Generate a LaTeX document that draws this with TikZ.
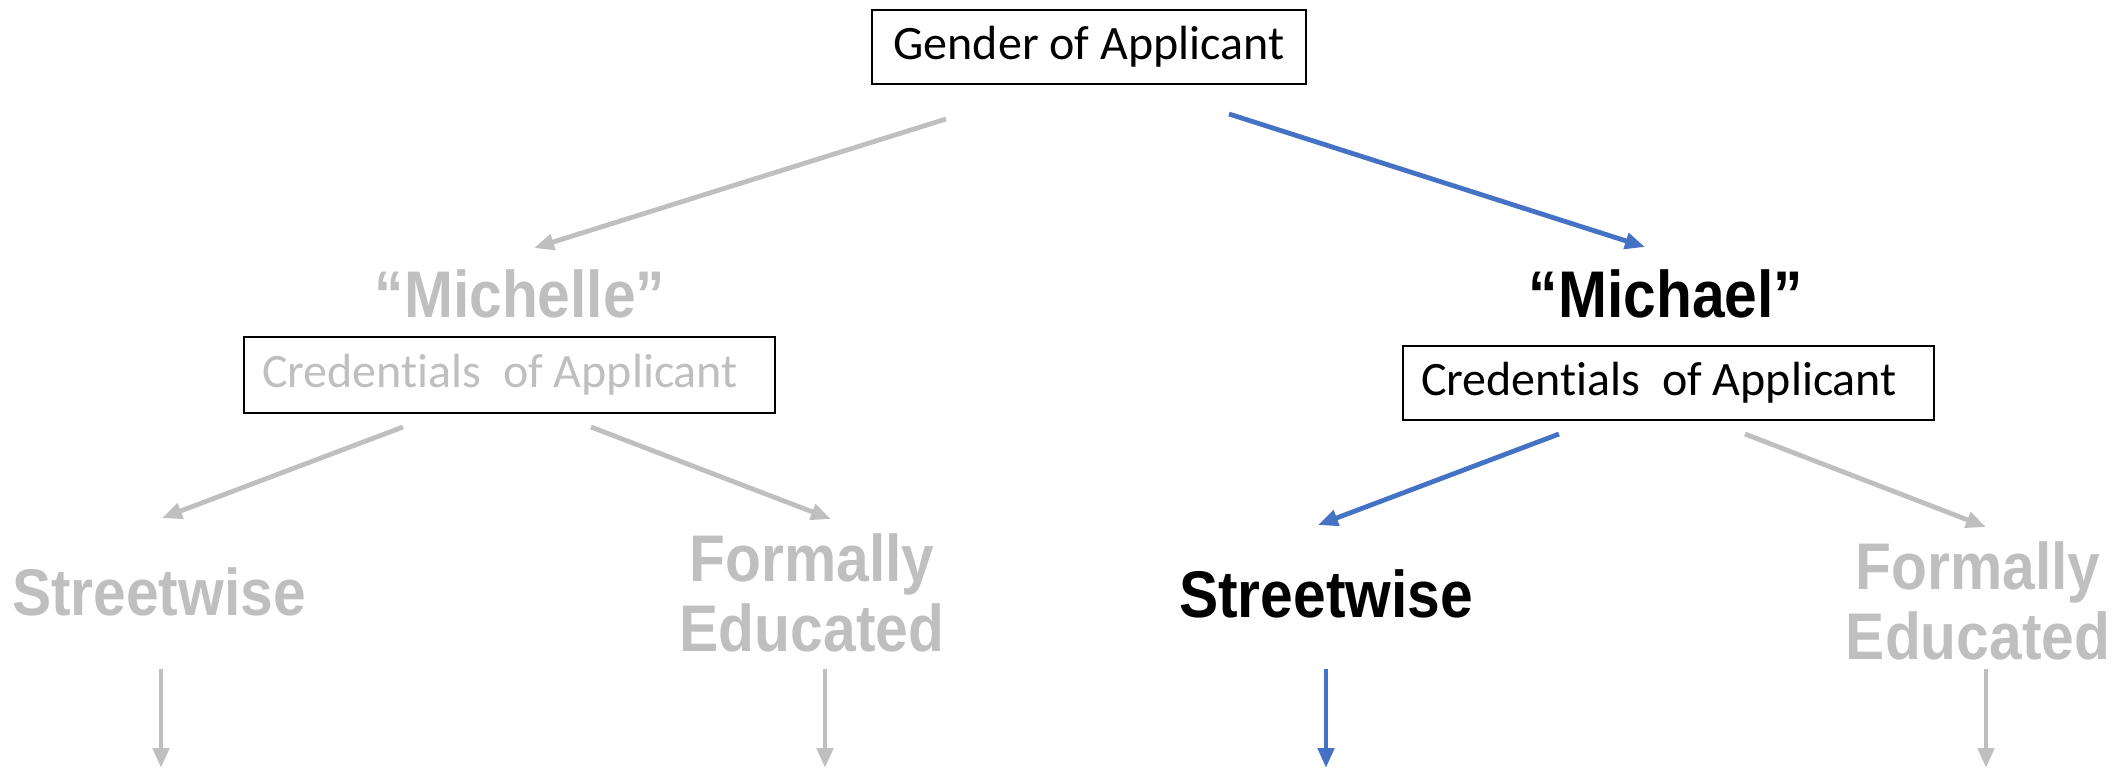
\documentclass[tikz,border=0pt]{standalone}
\usepackage{fontspec}
\setmainfont{Carlito}[Ligatures=NoCommon]
\newfontfamily\labelfont[FakeStretch=0.89]{Liberation Sans}
\usetikzlibrary{arrows.meta,positioning}
\usepackage{xcolor}
\definecolor{chosencolor}{RGB}{68,114,196}
\definecolor{ignoredcolor}{RGB}{191,191,191}

\begin{document}
\begin{tikzpicture}[
    x=0.5pt, y=-0.5pt,
    boxnode/.style={rectangle, draw=black, line width=1pt, minimum width=217pt, minimum height=37pt, inner sep=0pt, font=\fontsize{24}{28}\selectfont},
    labelnode/.style={align=center, inner sep=0pt, font=\labelfont\bfseries\fontsize{33}{35}\selectfont},
    chosenlabel/.style={labelnode, text=black},
    ignoredlabel/.style={labelnode, text=ignoredcolor},
    arrow/.style={-{Triangle[length=10pt,width=8pt]}, line width=2.4pt},
    chosenarrow/.style={arrow, chosencolor},
    ignoredarrow/.style={arrow, ignoredcolor}
]
\useasboundingbox (0,0) rectangle (2120,771);

% Root question
\node[boxnode] (gender) at (1089,47) {Gender of Applicant};

% Names
\node[ignoredlabel] (michelle) at (520,294) {“Michelle”};
\node[chosenlabel] (michael) at (1666,294) {“Michael”};

% Second question
\node[boxnode, minimum width=265.5pt, minimum height=38pt, text=ignoredcolor] (credL) at (509,375) {Credentials\ \ of Applicant\kern9pt};
\node[boxnode, minimum width=265.5pt] (credR) at (1668,383) {Credentials\ \ of Applicant\kern9pt};

% Leaves
\node[ignoredlabel] (streetL) at (159,592) {Streetwise};
\node[ignoredlabel] (formalL) at (812,593) {Formally\\Educated};
\node[chosenlabel] (streetR) at (1326,594) {Streetwise};
\node[ignoredlabel] (formalR) at (1978,601) {Formally\\Educated};

% Loose ends at the bottom
\coordinate (outSL) at (161,768);
\coordinate (outFL) at (825,768);
\coordinate (outSR) at (1326,768);
\coordinate (outFR) at (1986,768);

% Arrows
\draw[ignoredarrow] ([shift={(-143,72)}]gender.center) -- ([shift={(14,-46)}]michelle.center);
\draw[chosenarrow] ([shift={(140,67)}]gender.center) -- ([shift={(-21,-47)}]michael.center);

\draw[ignoredarrow] ([shift={(-106,52)}]credL.center) -- ([shift={(3,-74)}]streetL.center);
\draw[ignoredarrow] ([shift={(82,52)}]credL.center) -- ([shift={(19,-74)}]formalL.center);
\draw[chosenarrow] ([shift={(-109,51)}]credR.center) -- ([shift={(-8,-69)}]streetR.center);
\draw[ignoredarrow] ([shift={(77,51)}]credR.center) -- ([shift={(8,-74)}]formalR.center);

\draw[ignoredarrow] ([shift={(2,77)}]streetL.center) -- (outSL);
\draw[ignoredarrow] ([shift={(13,76)}]formalL.center) -- (outFL);
\draw[chosenarrow] ([shift={(0,75)}]streetR.center) -- (outSR);
\draw[ignoredarrow] ([shift={(8,68)}]formalR.center) -- (outFR);

\end{tikzpicture}
\end{document}
